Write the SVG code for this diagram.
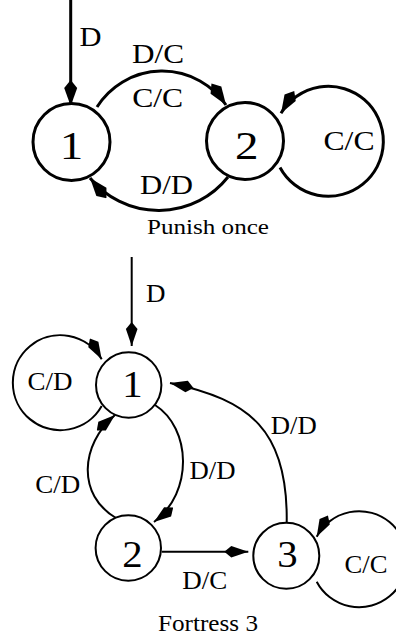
<svg xmlns="http://www.w3.org/2000/svg" width="396" height="636" viewBox="0 0 396 636">
  <style>
    .t { font-family: "Liberation Serif", "Times New Roman", serif; fill: #000; text-anchor: middle; }
    .st { fill: #fff; stroke: #000; }
    .ed { fill: none; stroke: #000; }
    .w3 { stroke-width: 3; }
    .w2 { stroke-width: 2; }
    .ka { marker-end: url(#kiteA); }
    .kb { marker-end: url(#kiteB); }
  </style>
  <defs>
    <!-- kite-shaped arrowheads, tip at the path end -->
    <marker id="kiteA" markerUnits="userSpaceOnUse" markerWidth="28" markerHeight="16" viewBox="0 -8 28 16" refX="26" refY="0" orient="auto">
      <path d="M0,0 L8,-6.5 L26,0 L8,6.5 Z" fill="#000"/>
    </marker>
    <marker id="kiteB" markerUnits="userSpaceOnUse" markerWidth="26" markerHeight="14" viewBox="0 -7 26 14" refX="24" refY="0" orient="auto">
      <path d="M0,0 L7,-5.8 L24,0 L7,5.8 Z" fill="#000"/>
    </marker>
  </defs>

  <!-- Punish once -->
  <g id="punish-edges">
    <path class="ed w3 ka" d="M70.7,0 L70.7,106"/>
    <path class="ed w3 ka" d="M97,107 A77,77 0 0 1 226,105"/>
    <path class="ed w3 ka" d="M228,177 A88.6,88.6 0 0 1 90,178"/>
    <path class="ed w3 ka" d="M280,167.5 A55,55 0 1 0 281,113.3"/>
  </g>
  <g id="p-state-1">
    <circle class="st w3" cx="71.5" cy="142" r="38.5"/>
    <text class="t" x="71.5" y="159.3" font-size="41" textLength="23.5" lengthAdjust="spacingAndGlyphs">1</text>
  </g>
  <g id="p-state-2">
    <circle class="st w3" cx="245" cy="141" r="38.5"/>
    <text class="t" x="246.7" y="159.3" font-size="41" textLength="23.5" lengthAdjust="spacingAndGlyphs">2</text>
  </g>
  <g id="punish-labels">
    <text class="t" x="90.5" y="46" font-size="26.5" textLength="22" lengthAdjust="spacingAndGlyphs">D</text>
    <text class="t" x="158" y="62.7" font-size="26.5" textLength="52" lengthAdjust="spacingAndGlyphs">D/C</text>
    <text class="t" x="157.7" y="106.7" font-size="26.5" textLength="51" lengthAdjust="spacingAndGlyphs">C/C</text>
    <text class="t" x="166.5" y="194" font-size="26.5" textLength="53" lengthAdjust="spacingAndGlyphs">D/D</text>
    <text class="t" x="349" y="150" font-size="26.5" textLength="51" lengthAdjust="spacingAndGlyphs">C/C</text>
    <text class="t" x="208" y="233.5" font-size="21.7" textLength="122" lengthAdjust="spacingAndGlyphs">Punish once</text>
  </g>

  <!-- Fortress 3 -->
  <g id="fortress-edges">
    <path class="ed w2 kb" d="M131.7,257 L131.7,346"/>
    <path class="ed w2 kb" d="M101.7,406 A47.5,47.5 0 1 1 101.7,359.3"/>
    <path class="ed w2 kb" d="M116,518 C77,495 80,445 115,415"/>
    <path class="ed w2 kb" d="M155,405 C191,428 194,492 154,522"/>
    <path class="ed w2 kb" d="M286.7,522 C288,430 250,400 170,383"/>
    <path class="ed w2 kb" d="M161.7,551.7 L248.3,551.7"/>
    <path class="ed w2 kb" d="M316.7,581.7 A48,48 0 1 0 316.7,536.7"/>
  </g>
  <g id="f-state-1">
    <circle class="st w2" cx="128.7" cy="385" r="32.7"/>
    <text class="t" x="132.5" y="397" font-size="37" textLength="20.4" lengthAdjust="spacingAndGlyphs">1</text>
  </g>
  <g id="f-state-2">
    <circle class="st w2" cx="128.3" cy="548" r="32.7"/>
    <text class="t" x="132.5" y="566.7" font-size="37" textLength="20.4" lengthAdjust="spacingAndGlyphs">2</text>
  </g>
  <g id="f-state-3">
    <circle class="st w2" cx="286.3" cy="555.8" r="33"/>
    <text class="t" x="287.5" y="566.7" font-size="37" textLength="20.4" lengthAdjust="spacingAndGlyphs">3</text>
  </g>
  <g id="fortress-labels">
    <text class="t" x="155.8" y="301.7" font-size="25" textLength="19.5" lengthAdjust="spacingAndGlyphs">D</text>
    <text class="t" x="50" y="390" font-size="26" textLength="45" lengthAdjust="spacingAndGlyphs">C/D</text>
    <text class="t" x="57.7" y="492.5" font-size="26" textLength="45" lengthAdjust="spacingAndGlyphs">C/D</text>
    <text class="t" x="212.5" y="479" font-size="26" textLength="46" lengthAdjust="spacingAndGlyphs">D/D</text>
    <text class="t" x="293.8" y="434" font-size="26" textLength="46" lengthAdjust="spacingAndGlyphs">D/D</text>
    <text class="t" x="204.7" y="589.3" font-size="26" textLength="45" lengthAdjust="spacingAndGlyphs">D/C</text>
    <text class="t" x="366" y="572.7" font-size="26" textLength="43" lengthAdjust="spacingAndGlyphs">C/C</text>
    <text class="t" x="208" y="630.7" font-size="22.5" textLength="100" lengthAdjust="spacingAndGlyphs">Fortress 3</text>
  </g>
</svg>
